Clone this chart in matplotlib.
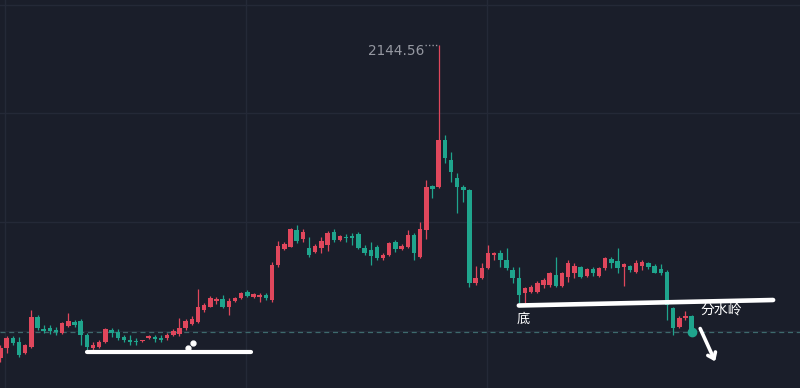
import numpy as np
import matplotlib
matplotlib.use("Agg")
import matplotlib.pyplot as plt
from matplotlib.patches import FancyArrowPatch

# --- DATA (one candle per entry) ---
opens = [1832, 1842, 1852, 1848, 1837, 1843, 1873, 1861, 1862, 1860,
         1857, 1864, 1868, 1869, 1855, 1842, 1843, 1848, 1860, 1858,
         1853, 1850, 1849, 1848.5, 1852, 1853, 1852, 1852, 1855, 1856,
         1862, 1866, 1868, 1880, 1883, 1889, 1891, 1883, 1889, 1892,
         1898, 1893, 1893, 1895, 1890, 1925, 1941, 1943, 1960, 1951,
         1942, 1938, 1942, 1945, 1958, 1950, 1953, 1954, 1956, 1942,
         1940, 1943, 1932, 1935, 1948, 1941, 1943, 1955, 1933, 1960,
         2004, 2003, 2050, 2030, 2012, 2003, 2000, 1907, 1912, 1922,
         1935, 1937, 1930, 1920, 1912, 1897, 1898, 1898, 1905, 1905,
         1915, 1904, 1913, 1917, 1923, 1914, 1921, 1914, 1922, 1931,
         1929, 1923, 1924, 1918, 1924, 1927, 1924, 1921, 1918, 1882,
         1863, 1872, 1874]
highs = [1845, 1854, 1854, 1853, 1846, 1880, 1875, 1865, 1865, 1863,
         1868, 1877, 1870, 1871, 1857, 1848, 1850, 1862, 1862, 1861,
         1855, 1855, 1852, 1850, 1855, 1855, 1855, 1857, 1861, 1872,
         1871, 1874, 1901, 1887, 1894, 1893, 1895, 1892, 1893, 1898,
         1900, 1897, 1897, 1897, 1928, 1949, 1948, 1962, 1965, 1961,
         1953, 1946, 1953, 1959, 1961, 1955, 1956, 1957, 1958, 1945,
         1948, 1945, 1937, 1948, 1950, 1946, 1960, 1957, 1968, 2010,
         2005, 2144.56, 2055, 2038, 2017, 2005, 2001, 1924, 1927, 1945,
         1938, 1940, 1942, 1923, 1923, 1903, 1905, 1909, 1912, 1918,
         1933, 1918, 1930, 1927, 1924, 1922, 1923, 1923, 1933, 1933,
         1942, 1927, 1925, 1930, 1930, 1928, 1926, 1926, 1920, 1883,
         1874, 1879, 1875]
lows = [1828, 1837, 1845, 1833, 1836, 1842, 1860, 1857, 1856, 1855,
        1856, 1863, 1863, 1845, 1840, 1840, 1842, 1847, 1853, 1850,
        1848, 1845, 1845, 1848, 1851, 1848, 1848, 1850, 1854, 1854,
        1860, 1865, 1867, 1878, 1883, 1886, 1882, 1875, 1888, 1891,
        1893, 1892, 1888, 1890, 1888, 1923, 1940, 1943, 1947, 1948,
        1933, 1937, 1937, 1939, 1948, 1949, 1948, 1945, 1941, 1935,
        1925, 1930, 1930, 1934, 1938, 1940, 1942, 1930, 1932, 1951,
        1992, 2002, 2027, 2008, 1977, 1988, 1903, 1905, 1911, 1921,
        1930, 1923, 1920, 1907, 1887, 1887, 1897, 1897, 1902, 1903,
        1903, 1903, 1908, 1912, 1912, 1913, 1914, 1913, 1920, 1922,
        1917, 1904, 1918, 1917, 1920, 1921, 1917, 1915, 1870, 1855,
        1862, 1870, 1855]
closes = [1842, 1852, 1847, 1835, 1845, 1873, 1862, 1859, 1859, 1858,
          1867, 1869, 1865, 1855, 1843, 1845, 1848, 1861, 1857, 1852,
          1850, 1848, 1848, 1849.5, 1854, 1851, 1850, 1855, 1859, 1862,
          1869, 1871, 1883, 1885, 1892, 1891, 1883, 1889, 1892, 1897,
          1894, 1896, 1895, 1892, 1925, 1944, 1946, 1961, 1949, 1958,
          1935, 1944, 1949, 1957, 1950, 1954, 1952, 1952, 1942, 1937,
          1934, 1932, 1935, 1947, 1941, 1944, 1955, 1937, 1961, 2003,
          2001, 2050, 2032, 2018, 2003, 2000, 1907, 1912, 1922, 1937,
          1937, 1930, 1922, 1912, 1895, 1902, 1903, 1907, 1910, 1917,
          1904, 1917, 1927, 1924, 1913, 1921, 1917, 1922, 1932, 1927,
          1922, 1926, 1920, 1927, 1928, 1923, 1917, 1917, 1885, 1862,
          1872, 1874, 1858]

high_label = "2144.56"

# --- STYLE ---
BG = "#1a1e2a"
GRID = "#242937"
RED = "#e0475c"
GREEN = "#1fa58d"
LABEL_GRAY = "#9598a1"
PRICE_LINE = "#3d6a6d"
CJK = ["Noto Sans CJK SC", "DejaVu Sans"]


def draw_candles(ax, o, h, l, c):
    o, h, l, c = map(np.asarray, (o, h, l, c))
    idx = np.arange(len(o))
    colors = np.where(c >= o, RED, GREEN)
    ax.vlines(idx, l, h, colors=colors, linewidth=0.9, zorder=3)
    bottoms = np.minimum(o, c)
    heights = np.maximum(np.abs(c - o), 0.9)
    ax.bar(idx, heights, bottom=bottoms, width=0.72, color=colors,
           linewidth=0, zorder=4)


def draw_notes(ax, h, c):
    # hand drawn white lines
    ax.plot([14.0, 40.6], [1838, 1838], color="white", lw=3.0,
            solid_capstyle="round", zorder=6)
    ax.plot([30.4, 31.2], [1842, 1847], "o", color="white", ms=3.5, zorder=6)
    ax.plot([84.0, 125.2], [1884.5, 1890], color="white", lw=3.3,
            solid_capstyle="round", zorder=6)

    ax.text(84.7, 1871, "底", color="white", fontsize=9.5, family=CJK,
            ha="center", va="center", zorder=7)
    ax.text(116.8, 1880, "分水岭", color="white", fontsize=10, family=CJK,
            ha="center", va="center", zorder=7)

    arrow = FancyArrowPatch((113.2, 1864), (116.0, 1826),
                            arrowstyle="->,head_length=4,head_width=3",
                            color="white", lw=2.6, zorder=7)
    ax.add_patch(arrow)

    # highest price marker
    top = int(np.argmax(h))
    ax.text(top - 2.4, h[top] + 1, high_label, color=LABEL_GRAY,
            fontsize=9.8, ha="right", va="top", zorder=7)
    ax.plot([top - 2.2, top], [h[top], h[top]], color=LABEL_GRAY,
            lw=1, ls=(0, (1, 1.5)), zorder=7)

    # last price line and dot
    ax.axhline(c[-1], color=PRICE_LINE, lw=0.9, ls=(0, (4, 3)), zorder=2)
    ax.plot([len(c) - 1], [c[-1]], "o", color=GREEN, ms=6, zorder=5)


def main():
    fig = plt.figure(figsize=(8, 3.88), dpi=100, facecolor=BG)
    ax = fig.add_axes([0, 0, 1, 1], facecolor=BG)

    draw_candles(ax, opens, highs, lows, closes)
    draw_notes(ax, highs, closes)

    ax.set_xlim(-0.08, 129.56)
    ax.set_ylim(1802, 2190)
    ax.set_xticks([0.73, 39.78, 78.84])
    ax.set_yticks([2185, 2077, 1968, 1859])
    ax.grid(color=GRID, lw=1)
    ax.set_axisbelow(True)
    ax.tick_params(length=0, labelbottom=False, labelleft=False)
    for s in ax.spines.values():
        s.set_visible(False)

    fig.savefig("out.png", dpi=100, facecolor=BG)


if __name__ == "__main__":
    main()
